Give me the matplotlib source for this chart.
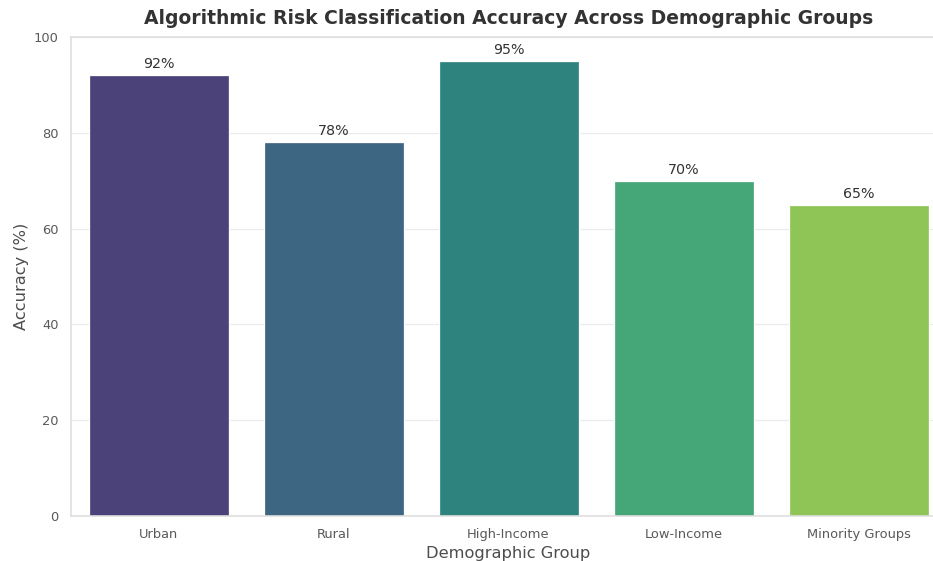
import matplotlib
matplotlib.use("Agg")
import matplotlib.pyplot as plt
import seaborn as sns
import pandas as pd

groups = ["Urban", "Rural", "High-Income", "Low-Income", "Minority Groups"]
accuracy = [92, 78, 95, 70, 65]

sns.set_theme(style="whitegrid")
plt.rcParams['font.family'] = ['DejaVu Sans']

df = pd.DataFrame({"Demographic Group": groups, "Accuracy": accuracy})

fig = plt.figure(figsize=(10, 561/93.3), dpi=93.3)
ax = fig.add_axes([71/933, 45/561, 875/933, 479/561])
sns.barplot(data=df, x="Demographic Group", y="Accuracy", hue="Demographic Group",
            palette="viridis", legend=False, ax=ax)
ax.set_ylim(0, 100)
ax.set_xlim(-0.5, len(groups) - 0.5)
for c in ax.containers:
    ax.bar_label(c, labels=[f"{v:.0f}%" for v in c.datavalues], padding=3, fontsize=11, color='0.2')
ax.set_title("Algorithmic Risk Classification Accuracy Across Demographic Groups",
             fontsize=14.5, fontweight="bold", color='0.2', pad=10)
ax.set_xlabel("Demographic Group", fontsize=12.5, color='0.3')
ax.set_ylabel("Accuracy (%)", fontsize=12.5, color='0.3')
ax.tick_params(axis='both', labelsize=10, labelcolor='0.35')
ax.yaxis.grid(True, color='0.92')
ax.xaxis.grid(False)
ax.spines['right'].set_visible(False)
for s in ('left', 'top', 'bottom'):
    ax.spines[s].set_color('0.87')
fig.savefig("out.png", dpi=93.3)
